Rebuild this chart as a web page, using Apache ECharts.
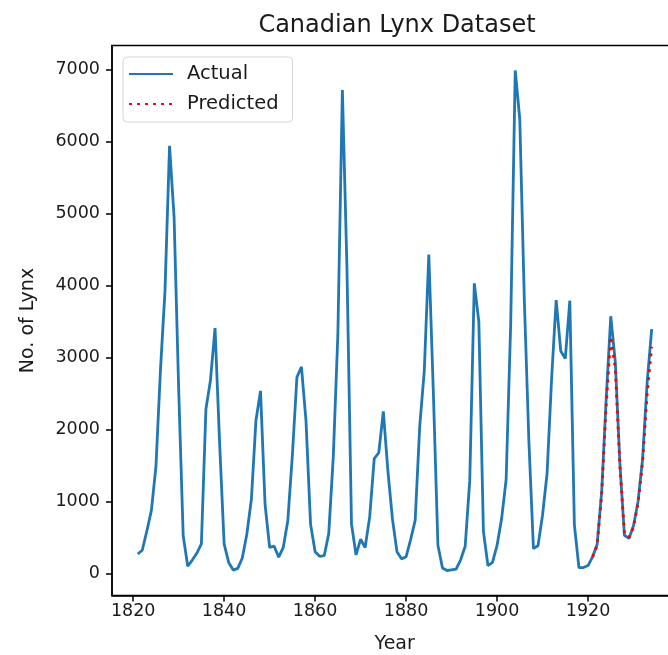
<!DOCTYPE html>
<html>
<head>
<meta charset="utf-8">
<script src="https://cdn.jsdelivr.net/npm/echarts@6/dist/echarts.min.js"></script>
<style>
  html, body { margin: 0; padding: 0; background: #fff; }
  #chart { width: 668px; height: 655px; }
</style>
</head>
<body>
<div id="chart"></div>
<script>
// lynx trappings, 1821-1934
const years = []
for (let y = 1821; y <= 1934; y++) years.push(y)
const actual = [
  269, 321, 585, 871, 1475, 2821, 3928, 5943, 4950, 2577,
  523, 98, 184, 279, 409, 2285, 2685, 3409, 1824, 409,
  151, 45, 68, 213, 546, 1033, 2129, 2536, 957, 361,
  377, 225, 360, 731, 1638, 2725, 2871, 2119, 684, 299,
  236, 245, 552, 1623, 3311, 6721, 4254, 687, 255, 473,
  358, 784, 1594, 1676, 2251, 1426, 756, 299, 201, 229,
  469, 736, 2042, 2811, 4431, 2511, 389, 73, 39, 49,
  59, 188, 377, 1292, 4031, 3495, 587, 105, 153, 387,
  758, 1307, 3465, 6991, 6313, 3794, 1836, 345, 382, 808,
  1388, 2713, 3800, 3091, 2985, 3790, 674, 81, 80, 108,
  229, 399, 1132, 2432, 3574, 2935, 1537, 529, 485, 662,
  1000, 1590, 2657, 3396,
]
// forecast for the last 14 years
const predYears = [1921, 1922, 1923, 1924, 1925, 1926, 1927, 1928, 1929, 1930, 1931, 1932, 1933, 1934]
const predicted = [225, 390, 1100, 2350, 3290, 2850, 1500, 560, 500, 640, 980, 1550, 2500, 3150]

const xTicks = [1820, 1840, 1860, 1880, 1900, 1920]
const yTicks = [0, 1000, 2000, 3000, 4000, 5000, 6000, 7000]

const FONT = 'DejaVu Sans'
const TXT = '#1a1a1a'

const chart = echarts.init(document.getElementById('chart'))
chart.setOption({
  animation: false,
  title: {
    text: 'Canadian Lynx Dataset', left: 392, top: 9, textAlign: 'center',
    textStyle: { fontFamily: FONT, fontSize: 24, fontWeight: 'normal', color: TXT },
  },
  legend: {
    orient: 'vertical', left: 123, top: 57,
    padding: [7, 14, 8, 5], itemGap: 10, itemWidth: 44, itemHeight: 20,
    borderColor: '#d5d5d5', borderWidth: 1, borderRadius: 4,
    backgroundColor: 'rgba(255,255,255,0.8)',
    itemStyle: { opacity: 0 },
    textStyle: { fontFamily: FONT, fontSize: 19.5, color: TXT, padding: [0, 0, 0, 9] },
    data: ['Actual', 'Predicted'],
  },
  grid: {
    left: 112, top: 45.5, right: -9.4, bottom: 59.5,
    outerBoundsMode: 'none',
    show: true, borderColor: '#000', borderWidth: 1.5, backgroundColor: 'transparent',
  },
  xAxis: {
    type: 'value', min: 1815.35, max: 1939.65,
    name: 'Year', nameLocation: 'middle', nameGap: 39,
    nameTextStyle: { fontFamily: FONT, fontSize: 19, color: TXT },
    axisLine: { onZero: false, lineStyle: { color: '#000', width: 1.5 } },
    axisTick: { length: 6, lineStyle: { color: '#000', width: 1.5 }, customValues: xTicks },
    axisLabel: {
      fontFamily: FONT, fontSize: 17.5, color: TXT, margin: 7,
      customValues: xTicks, formatter: (v) => String(v),
    },
    splitLine: { show: false },
  },
  yAxis: {
    type: 'value', min: -308.6, max: 7338.6,
    name: 'No. of Lynx', nameLocation: 'middle', nameGap: 74, nameRotate: 90,
    nameTextStyle: { fontFamily: FONT, fontSize: 19, color: TXT },
    axisLine: { show: true, onZero: false, lineStyle: { color: '#000', width: 1.5 } },
    axisTick: { show: true, length: 6, lineStyle: { color: '#000', width: 1.5 }, customValues: yTicks },
    axisLabel: {
      fontFamily: FONT, fontSize: 17.5, color: TXT, margin: 12,
      customValues: yTicks, formatter: (v) => String(v),
    },
    splitLine: { show: false },
  },
  series: [
    {
      name: 'Actual', type: 'line', symbol: 'none',
      data: years.map((y, i) => [y, actual[i]]),
      lineStyle: { color: '#1f77b4', width: 2.8 },
      itemStyle: { color: '#1f77b4' },
    },
    {
      name: 'Predicted', type: 'line', symbol: 'none',
      data: predYears.map((y, i) => [y, predicted[i]]),
      lineStyle: { color: '#ff0000', width: 2.8, type: [3, 5], cap: 'butt' },
      itemStyle: { color: '#ff0000' },
    },
  ],
})
</script>
</body>
</html>
